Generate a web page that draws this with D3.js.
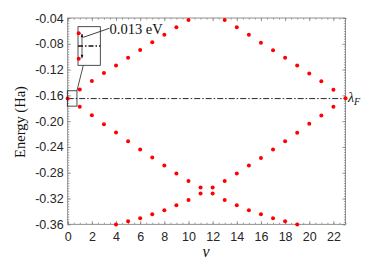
<!DOCTYPE html>
<html>
<head>
<meta charset="utf-8">
<script src="https://cdn.jsdelivr.net/npm/d3@7"></script>
<style>
  body { margin: 0; background: #fff; }
  .tick text { font-family: "Liberation Sans", Arial, sans-serif; font-size: 12.5px; fill: #262626; }
  .axis path, .axis line { stroke: #777; }
  .serif { font-family: "Liberation Serif", "DejaVu Serif", serif; fill: #111; }
</style>
</head>
<body>
<svg width="374" height="274"></svg>
<script>
/* quantum numbers and the three energy branches (Ha), null where no state is shown */
var nu = [0, 1, 2, 3, 4, 5, 6, 7, 8, 9, 10, 11, 12, 13, 14, 15, 16, 17, 18, 19, 20, 21, 22, 23];
var bandTop = [-0.1648, -0.1508, -0.1379, -0.1254, -0.1135, -0.1017, -0.0897, -0.0778, -0.0660, -0.0545, -0.0431, null,
               null, -0.0431, -0.0545, -0.0660, -0.0783, -0.0902, -0.1016, -0.1135, -0.1260, -0.1383, -0.1514, -0.1643];
var bandMid = [null, -0.1778, -0.1910, -0.2047, -0.2176, -0.2311, -0.2440, -0.2564, -0.2688, -0.2813, -0.2927, -0.3030,
               -0.3030, -0.2927, -0.2813, -0.2688, -0.2570, -0.2441, -0.2311, -0.2181, -0.2042, -0.1912, -0.1778, null];
var bandLow = [null, null, null, null, -0.3605, -0.3553, -0.3507, -0.3445, -0.3382, -0.3305, -0.3222, -0.3123,
               -0.3123, -0.3222, -0.3305, -0.3382, -0.3445, -0.3507, -0.3553, -0.3605, null, null, null, null];

/* Fermi level and the split pair at nu = 0 shown in the inset */
var fermi = -0.165;
var splitPair = [-0.16476, -0.16524];
var splitLabel = "0.013 eV";

var xTicks = [0, 2, 4, 6, 8, 10, 12, 14, 16, 18, 20, 22];
var yTicks = [-0.04, -0.08, -0.12, -0.16, -0.20, -0.24, -0.28, -0.32, -0.36];

var svg = d3.select("svg");

var x = d3.scaleLinear().domain([0, 23]).range([67.7, 345.5]);
var y = d3.scaleLinear().domain([-0.36, -0.04]).range([224.3, 18]);

/* punten in een lijst zetten */
var points = [];
[bandTop, bandMid, bandLow].forEach(function(band) {
  band.forEach(function(e, i) { if (e !== null) points.push({nu: nu[i], e: e}); });
});

/* minor ticks */
var xMinor = d3.range(0, 23.01, 0.5);
var yMinor = d3.range(-0.36, -0.0399, 0.004);

function styleAxis(g) {
  g.attr("class", "axis");
  g.select(".domain").remove();
  g.selectAll("line").attr("stroke-width", 0.7);
}

svg.append("g").attr("transform", "translate(0," + y(-0.36) + ")")
  .call(d3.axisBottom(x).tickValues(xMinor).tickSize(-1.6).tickFormat("")).call(styleAxis);
svg.append("g").attr("transform", "translate(0," + y(-0.36) + ")")
  .call(d3.axisBottom(x).tickValues(xTicks).tickSize(-3.2).tickPadding(7.5)).call(styleAxis);
svg.append("g").attr("transform", "translate(0," + y(-0.04) + ")")
  .call(d3.axisTop(x).tickValues(xMinor).tickSize(-1.6).tickFormat("")).call(styleAxis);
svg.append("g").attr("transform", "translate(0," + y(-0.04) + ")")
  .call(d3.axisTop(x).tickValues(xTicks).tickSize(-3.2).tickFormat("")).call(styleAxis);

svg.append("g").attr("transform", "translate(" + x(0) + ",0)")
  .call(d3.axisLeft(y).tickValues(yMinor).tickSize(-1.6).tickFormat("")).call(styleAxis);
svg.append("g").attr("transform", "translate(" + x(0) + ",0)")
  .call(d3.axisLeft(y).tickValues(yTicks).tickSize(-3.2).tickPadding(4)
    .tickFormat(function(d) { return d.toFixed(2); })).call(styleAxis);
svg.append("g").attr("transform", "translate(" + x(23) + ",0)")
  .call(d3.axisRight(y).tickValues(yMinor).tickSize(-1.6).tickFormat("")).call(styleAxis);
svg.append("g").attr("transform", "translate(" + x(23) + ",0)")
  .call(d3.axisRight(y).tickValues(yTicks).tickSize(-3.2).tickFormat("")).call(styleAxis);

/* kader */
svg.append("rect")
  .attr("x", x(0)).attr("y", y(-0.04))
  .attr("width", x(23) - x(0)).attr("height", y(-0.36) - y(-0.04))
  .attr("fill", "none").attr("stroke", "#777").attr("stroke-width", 0.8);

/* Fermi level */
svg.append("line")
  .attr("x1", x(0)).attr("x2", x(23))
  .attr("y1", y(fermi)).attr("y2", y(fermi))
  .attr("stroke", "#111").attr("stroke-width", 0.9)
  .attr("stroke-dasharray", "6,2,1.5,2");

svg.append("text").attr("class", "serif")
  .attr("x", x(23) + 2.5).attr("y", y(fermi) + 3.5)
  .attr("font-size", 14).attr("font-style", "italic")
  .text("λ")
  .append("tspan").attr("font-size", 10).attr("dy", 3).text("F");

/* data points */
svg.append("g").selectAll("circle")
  .data(points)
  .enter().append("circle")
    .attr("cx", function(d) { return x(d.nu); })
    .attr("cy", function(d) { return y(d.e); })
    .attr("r", 2)
    .attr("fill", "#ff0000");

/* zoom window around nu = 0 */
var zoomNu = [0, 0.8], zoomE = [-0.1529, -0.1767];
svg.append("rect")
  .attr("x", x(zoomNu[0]) - 0.4).attr("y", y(zoomE[0]))
  .attr("width", x(zoomNu[1]) - x(zoomNu[0])).attr("height", y(zoomE[1]) - y(zoomE[0]))
  .attr("fill", "none").attr("stroke", "#222").attr("stroke-width", 0.8);

/* inset */
var ix = d3.scaleLinear().domain([0, 1]).range([78.7, 100]);
var iy = d3.scaleLinear().domain([fermi + 0.000366, fermi - 0.000366]).range([26.7, 65.3]);

svg.append("line")
  .attr("x1", x(zoomNu[1]) - 0.4).attr("y1", y(zoomE[0]))
  .attr("x2", 83.3).attr("y2", iy.range()[1])
  .attr("stroke", "#222").attr("stroke-width", 0.8);

svg.append("rect")
  .attr("x", 78).attr("y", iy.range()[0])
  .attr("width", 22.3).attr("height", iy.range()[1] - iy.range()[0])
  .attr("fill", "#fff").attr("stroke", "#222").attr("stroke-width", 0.8);

svg.append("line")
  .attr("x1", 78).attr("x2", 100.3)
  .attr("y1", iy(fermi)).attr("y2", iy(fermi))
  .attr("stroke", "#111").attr("stroke-width", 1.5)
  .attr("stroke-dasharray", "5,2,1.5,2");

svg.append("g").selectAll("circle")
  .data(splitPair)
  .enter().append("circle")
    .attr("cx", ix(0))
    .attr("cy", function(d) { return iy(d); })
    .attr("r", 2)
    .attr("fill", "#ff0000");

/* double arrow */
var ax = 82;
svg.append("line")
  .attr("x1", ax).attr("x2", ax)
  .attr("y1", iy(splitPair[0]) + 1).attr("y2", iy(splitPair[1]) - 1)
  .attr("stroke", "#111").attr("stroke-width", 0.7);
svg.append("path")
  .attr("d", "M" + (ax - 1.3) + "," + (iy(splitPair[0]) + 4) + "L" + ax + "," + iy(splitPair[0]) + "L" + (ax + 1.3) + "," + (iy(splitPair[0]) + 4) + "Z" +
             "M" + (ax - 1.3) + "," + (iy(splitPair[1]) - 4) + "L" + ax + "," + iy(splitPair[1]) + "L" + (ax + 1.3) + "," + (iy(splitPair[1]) - 4) + "Z")
  .attr("fill", "#111");

svg.append("line")
  .attr("x1", 83.3).attr("y1", 37.3)
  .attr("x2", 109.3).attr("y2", 28.3)
  .attr("stroke", "#111").attr("stroke-width", 0.8);

svg.append("text").attr("class", "serif")
  .attr("x", 109.5).attr("y", 34)
  .attr("font-size", 14.5)
  .text(splitLabel);

/* axis titles */
svg.append("text").attr("class", "serif")
  .attr("transform", "translate(25,122) rotate(-90)")
  .attr("text-anchor", "middle")
  .attr("font-size", 14.5)
  .text("Energy (Ha)");

svg.append("text").attr("class", "serif")
  .attr("x", 206).attr("y", 257)
  .attr("text-anchor", "middle")
  .attr("font-size", 16).attr("font-style", "italic")
  .text("ν");
</script>
</body>
</html>
